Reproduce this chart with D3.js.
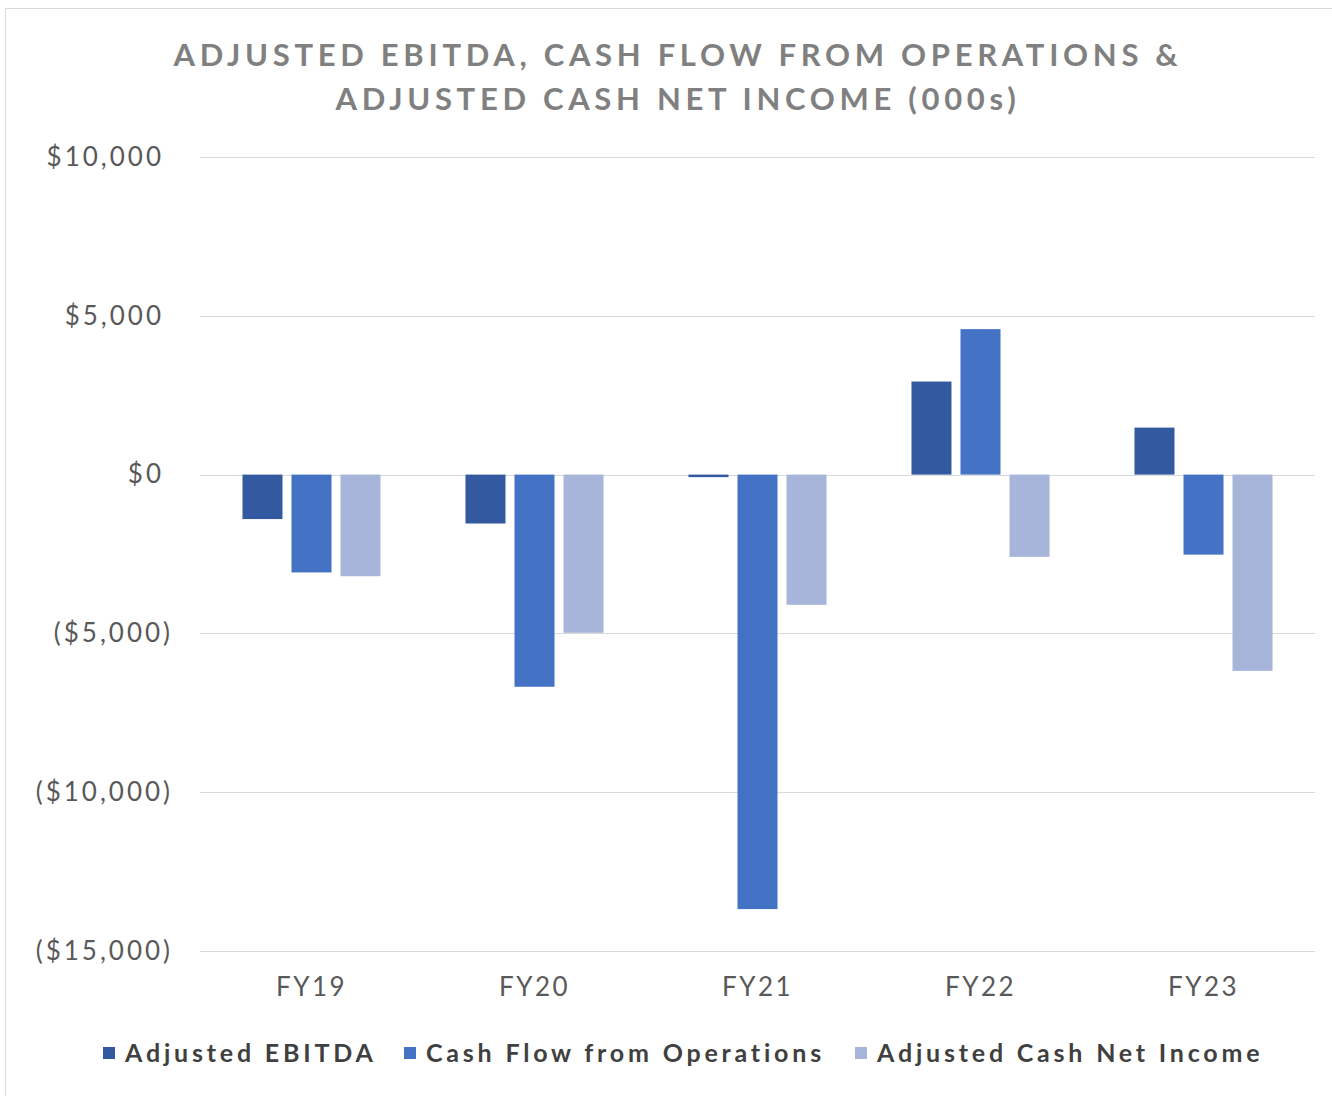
<!DOCTYPE html>
<html>
<head>
<meta charset="utf-8">
<script src="https://cdn.jsdelivr.net/npm/d3@7"></script>
<style>
  body { margin: 0; background: #fff; }
  text { font-family: Lato, "Noto Sans", sans-serif; }
</style>
</head>
<body>
<div id="chart"></div>
<script>
// data (in $000s)
var years = ["FY19", "FY20", "FY21", "FY22", "FY23"];
var seriesNames = ["Adjusted EBITDA", "Cash Flow from Operations", "Adjusted Cash Net Income"];
var ebitda = [-1400, -1540, -80, 2930, 1480];
var cashFlowOps = [-3080, -6680, -13680, 4580, -2520];
var adjCashNetIncome = [-3200, -4980, -4100, -2590, -6180];
var yTicks = [10000, 5000, 0, -5000, -10000, -15000];
var titleLines = ["ADJUSTED EBITDA, CASH FLOW FROM OPERATIONS &", "ADJUSTED CASH NET INCOME (000s)"];

var colors = ["#335aa0", "#4472c4", "#a7b5da"];

var width = 1332, height = 1096;
var margin = { top: 157, right: 17, bottom: 145, left: 200 };

var svg = d3.select("#chart")
    .append("svg")
    .attr("width", width)
    .attr("height", height);

// outer frame
svg.append("rect")
    .attr("x", 5.5).attr("y", 8.5)
    .attr("width", width - 4).attr("height", height)
    .attr("fill", "none")
    .attr("stroke", "#d9d9d9");

// title
svg.append("g").selectAll("text")
    .data(titleLines)
    .enter()
    .append("text")
    .attr("x", 678)
    .attr("y", function(d, i) { return 66 + i * 44; })
    .attr("text-anchor", "middle")
    .attr("fill", "#808080")
    .style("font-size", "31px")
    .style("font-weight", 700)
    .style("letter-spacing", "4.7px")
    .text(function(d) { return d; });

var table = years.map(function(y, i) {
    return { year: y, values: [ebitda[i], cashFlowOps[i], adjCashNetIncome[i]] };
});

// scales
var x0 = d3.scaleBand()
    .domain(years)
    .range([margin.left, width - margin.right])
    .paddingInner(0.381)
    .paddingOuter(0.1905);

var x1 = d3.scaleBand()
    .domain(d3.range(seriesNames.length))
    .range([0, x0.bandwidth()])
    .paddingInner(0.184);

var y = d3.scaleLinear()
    .domain([-15000, 10000])
    .range([height - margin.bottom - 0, margin.top]);

// gridlines
svg.append("g")
    .selectAll("line")
    .data(yTicks)
    .enter()
    .append("line")
    .attr("x1", margin.left)
    .attr("x2", width - margin.right)
    .attr("y1", function(d) { return Math.round(y(d)) + 0.5; })
    .attr("y2", function(d) { return Math.round(y(d)) + 0.5; })
    .attr("stroke", "#d9d9d9")
    .attr("stroke-width", 1.2);

// y axis labels
function fmt(d) {
    var s = "$" + d3.format(",")(Math.abs(d));
    return d < 0 ? "(" + s + ")" : s;
}
var yAxis = svg.append("g")
    .attr("transform", "translate(173,0)")
    .call(d3.axisLeft(y).tickValues(yTicks).tickSize(0).tickPadding(0).tickFormat(fmt));
yAxis.select(".domain").remove();
yAxis.selectAll("text")
    .attr("dx", function(d) { return d < 0 ? 0 : -9; })
    .attr("fill", "#595959")
    .style("font-size", "26px")
    .style("letter-spacing", "3px");

// x axis labels
var xAxis = svg.append("g")
    .attr("transform", "translate(0," + (y(-15000) + 27) + ")")
    .call(d3.axisBottom(x0).tickSize(0).tickPadding(0));
xAxis.select(".domain").remove();
xAxis.selectAll("text")
    .attr("fill", "#595959")
    .style("font-size", "26px")
    .style("letter-spacing", "2.5px");

// bars
var groups = svg.append("g")
    .selectAll("g")
    .data(table)
    .enter()
    .append("g")
    .attr("transform", function(d) { return "translate(" + x0(d.year) + ",0)"; });

groups.selectAll("rect")
    .data(function(d) { return d.values.map(function(v, i) { return { i: i, v: v }; }); })
    .enter()
    .append("rect")
    .attr("x", function(d) { return x1(d.i); })
    .attr("width", x1.bandwidth())
    .attr("y", function(d) { return y(Math.max(0, d.v)); })
    .attr("height", function(d) { return Math.abs(y(d.v) - y(0)); })
    .attr("fill", function(d) { return colors[d.i]; });

// legend
var legendX = [103, 404, 855];
var legend = svg.append("g")
    .selectAll("g")
    .data(seriesNames)
    .enter()
    .append("g")
    .attr("transform", function(d, i) { return "translate(" + legendX[i] + ",1053)"; });
legend.append("rect")
    .attr("x", 0).attr("y", -6)
    .attr("width", 12).attr("height", 12)
    .attr("fill", function(d, i) { return colors[i]; });
legend.append("text")
    .attr("x", 22)
    .attr("y", 9)
    .attr("fill", "#404040")
    .style("font-size", "25px")
    .style("font-weight", 700)
    .style("letter-spacing", "3.8px")
    .text(function(d) { return d; });
</script>
</body>
</html>
